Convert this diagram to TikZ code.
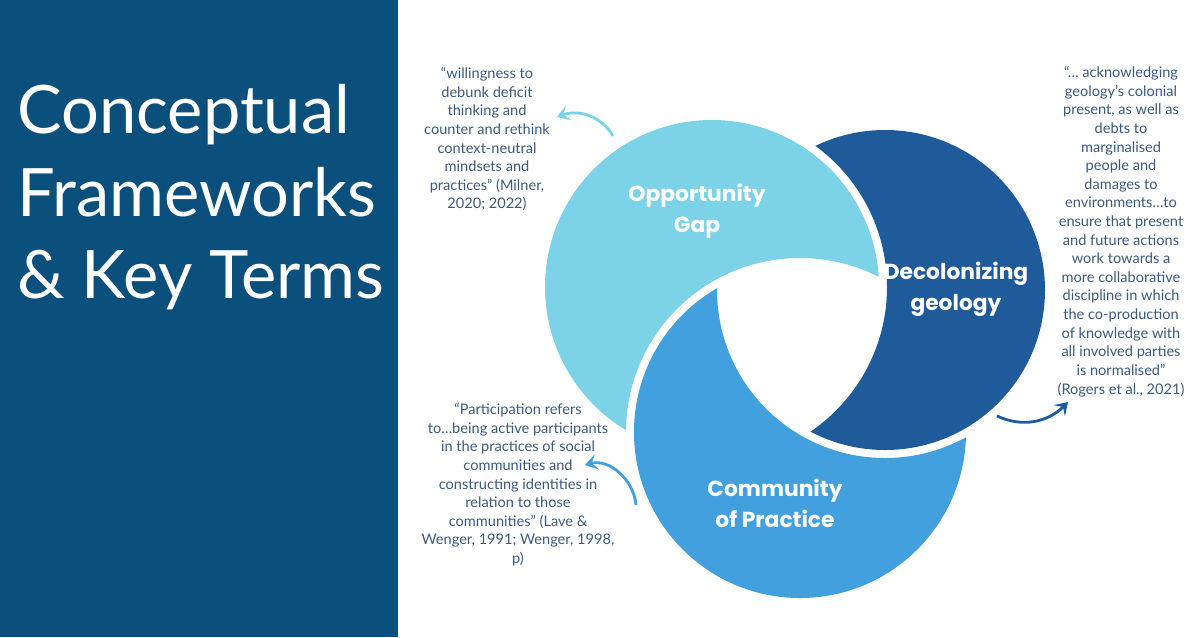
\documentclass[tikz,border=0pt]{standalone}
\usepackage{fontspec}
\setmainfont{Lato}
\newfontfamily\lblfont{Poppins}
\usetikzlibrary{arrows.meta}
\definecolor{panel}{HTML}{0B4F7C}
\definecolor{lightb}{HTML}{7CD3E8}
\definecolor{midb}{HTML}{43A0DE}
\definecolor{darkb}{HTML}{1F5A9B}
\definecolor{quote}{HTML}{3C5A7E}
\tikzstyle{quotetext}=[text=quote, align=center, font=\fontsize{8.3}{10.6}\selectfont, inner sep=0pt]
\tikzstyle{label}=[text=white, align=center, font=\lblfont\bfseries\fontsize{12.4}{17.5}\selectfont]
\tikzstyle{pointer}=[line width=1.6pt, -{Stealth[length=7pt,width=9pt,inset=3pt]}]
\newcommand{\crescent}[5]{% colour, own centre, own radius, other centre, other radius
  \begin{scope}[even odd rule]
    \clip (380,-20) rectangle (1220,660) #4 circle (#5);
    \fill[#1, nonzero rule] #2 circle (#3);
  \end{scope}}

\begin{document}
\begin{tikzpicture}[x=0.02cm, y=-0.02cm]
  \useasboundingbox (0,0) rectangle (1200,637);
  \fill[panel] (0,0) rectangle (398,637);
  \node[anchor=north west, text=white, align=left, inner sep=0pt,
        font=\fontsize{38}{47}\selectfont] (title) at (17,84)
        {Conceptual\\Frameworks\\\& Key Terms};

  % the three rings
  \crescent{lightb}{(712,287)}{167}{(800,432)}{174}
  \crescent{midb}{(800,432)}{166}{(885,290)}{168}
  \crescent{darkb}{(885,290)}{160}{(712,287)}{175}

  \node[label] (gap) at (697,211) {Opportunity\\Gap};
  \node[label] (decol) at (956,289) {Decolonizing\\geology};
  \node[label] (cop) at (775,503) {Community\\of Practice};

  \node[quotetext, anchor=north] (q1) at (487,67)
    {``willingness to\\debunk deficit\\thinking and\\counter and rethink\\context-neutral\\mindsets and\\practices'' (Milner,\\2020; 2022)};
  \node[quotetext, anchor=north] (q2) at (1121,66)
    {``\ldots\ acknowledging\\geology's colonial\\present, as well as\\debts to\\marginalised\\people and\\damages to\\environments\ldots to\\ensure that present\\and future actions\\work towards a\\more collaborative\\discipline in which\\the co-production\\of knowledge with\\all involved parties\\is normalised''\\(Rogers et al., 2021)};
  \node[quotetext, anchor=north] (q3) at (518,403)
    {``Participation refers\\to\ldots being active participants\\in the practices of social\\communities and\\constructing identities in\\relation to those\\communities'' (Lave \&\\Wenger, 1991; Wenger, 1998,\\p)};

  % curved pointers
  \coordinate (g1) at (613,136);
  \coordinate (g2) at (557,117);
  \draw[pointer, lightb] (g1) to[out=120, in=20] (g2);
  \coordinate (c1) at (636,505);
  \coordinate (c2) at (585,465);
  \draw[pointer, midb] (c1) to[out=95, in=15] (c2);
  \coordinate (d1) at (997,416);
  \coordinate (d2) at (1068,402);
  \draw[pointer, darkb] (d1) to[out=-25, in=225] (d2);
\end{tikzpicture}
\end{document}
